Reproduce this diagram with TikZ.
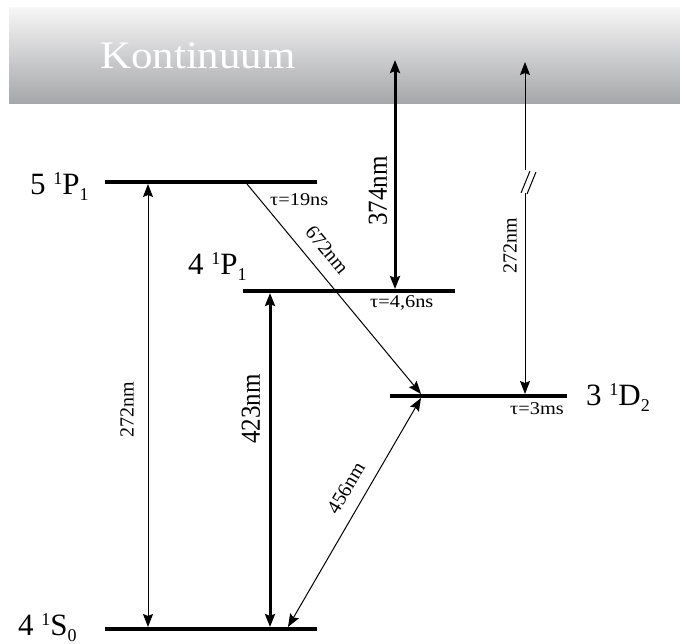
\documentclass[tikz,border=0pt]{standalone}
\usepackage{fontspec}
\setmainfont{Liberation Serif}
\usetikzlibrary{arrows.meta}
\newcommand{\hsx}[1]{\scalebox{1.13}[1]{#1}}
\newcommand{\lvlab}[3]{#1~\raisebox{10pt}{\fontsize{18}{18}\selectfont 1}#2\raisebox{-6pt}{\fontsize{18}{18}\selectfont #3}}
\definecolor{bandtop}{HTML}{F6F6F6}
\definecolor{bandbot}{HTML}{A5A6A9}
\begin{document}
\begin{tikzpicture}[x=1pt,y=-1pt,
  >={Stealth[length=13pt,width=10pt,inset=2pt]},
  lvline/.style={line width=4pt},
  thinarr/.style={line width=1pt},
  thickarr/.style={line width=3pt},
  lvtext/.style={anchor=base west, inner sep=0pt, font=\fontsize{31}{31}\selectfont},
  tautext/.style={anchor=base west, inner sep=0pt, font=\fontsize{18}{18}\selectfont},
  wl/.style={inner sep=0pt, font=\fontsize{20}{20}\selectfont},
  wlbig/.style={inner sep=0pt, font=\fontsize{25}{25}\selectfont}]
\useasboundingbox (0,0) rectangle (680,644);
\fill[white] (0,0) rectangle (680,644);
% continuum band
\shade[top color=bandtop, bottom color=bandbot] (9,8) rectangle (680,104);
\node[anchor=base west, inner sep=0pt, text=white, font=\fontsize{39}{39}\selectfont] (kont) at (100,69) {\scalebox{1.1}[1]{Kontinuum}};
% levels
\coordinate (p5l) at (105,182); \coordinate (p5r) at (317,182);
\coordinate (p4l) at (243,291); \coordinate (p4r) at (455,291);
\coordinate (d3l) at (390,396); \coordinate (d3r) at (567,396);
\coordinate (s4l) at (105,629); \coordinate (s4r) at (317,629);
\draw[lvline] (p5l) -- (p5r);
\draw[lvline] (p4l) -- (p4r);
\draw[lvline] (d3l) -- (d3r);
\draw[lvline] (s4l) -- (s4r);
% level labels
\node[lvtext] (t5p) at (30,195) {\lvlab{5}{P}{1}};
\node[lvtext] (t4p) at (188,275) {\lvlab{4}{P}{1}};
\node[lvtext] (t3d) at (586,405) {\lvlab{3}{D}{2}};
\node[lvtext] (t4s) at (18,635) {\lvlab{4}{S}{0}};
% lifetimes
\node[tautext] (tau1) at (270,206) {\hsx{τ=19ns}};
\node[tautext] (tau2) at (370,308) {\hsx{τ=4,6ns}};
\node[tautext] (tau3) at (510,414) {\hsx{τ=3ms}};
% arrow end points
\coordinate (a1b) at (148,627); \coordinate (a1t) at (148,184);
\coordinate (a2b) at (270,627); \coordinate (a2t) at (270,293);
\coordinate (a3t) at (395,60);  \coordinate (a3b) at (395,289);
\coordinate (a4t) at (525,62);  \coordinate (a4m) at (525,170);
\coordinate (a4n) at (525,193); \coordinate (a4b) at (525,394);
\coordinate (a5s) at (247,184); \coordinate (a5e) at (421,394);
\coordinate (a6s) at (288,627); \coordinate (a6e) at (421,398);
% transitions
\draw[thinarr, <->] (a1b) -- (a1t);
\draw[thickarr, <->] (a2b) -- (a2t);
\draw[thickarr, <->] (a3t) -- (a3b);
\draw[thinarr, <-] (a4t) -- (a4m);
\draw[thinarr, ->] (a4n) -- (a4b);
\coordinate (sl1a) at (521,193); \coordinate (sl1b) at (530,171);
\coordinate (sl2a) at (527,194); \coordinate (sl2b) at (536,172);
\draw[thinarr] (sl1a) -- (sl1b);
\draw[thinarr] (sl2a) -- (sl2b);
\draw[thinarr, ->] (a5s) -- (a5e);
\draw[thinarr, <->] (a6s) -- (a6e);
% wavelength labels
\node[wl, rotate=90] (w1) at (127,410) {272nm};
\node[wlbig, rotate=90] (w2) at (251,409) {\scalebox{1}[1.1]{423nm}};
\node[wlbig, rotate=90] (w3) at (378,191) {\scalebox{1}[1.1]{374nm}};
\node[wl, rotate=90] (w4) at (510,246) {272nm};
\node[wl, rotate=-50.4] (w5) at (327,250) {672nm};
\node[wl, rotate=59.3] (w6) at (346,488) {456nm};
\end{tikzpicture}
\end{document}
